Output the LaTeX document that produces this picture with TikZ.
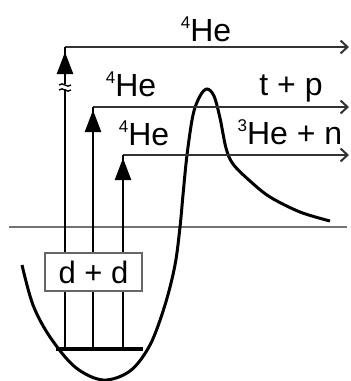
\documentclass[tikz,border=0pt]{standalone}
\usepackage{fontspec}
\setmainfont{Liberation Sans}
\usetikzlibrary{arrows.meta}
\newcommand{\supnum}[1]{\raisebox{13pt}{\fontsize{17}{17}\selectfont #1}}
\begin{document}
\begin{tikzpicture}[x=1pt,y=-1pt,
  hline/.style={line width=2.4pt, draw=black!80, -{Straight Barb[length=7pt,width=13pt,line width=2pt]}},
  vline/.style={line width=2.4pt, draw=black},
  vtip/.style={line width=2.4pt, -{Triangle[length=22pt,width=16pt]}},
  lbl/.style={font=\fontsize{32}{36}\selectfont, anchor=base, inner sep=0pt},
  base/.style={line width=2.6pt, draw=black!55},
  pot/.style={line width=3pt, draw=black},
  boxn/.style={draw=black!60, line width=1.3pt, fill=white, minimum width=97pt, minimum height=38pt, inner sep=0pt, font=\fontsize{31}{34}\selectfont}
]
\useasboundingbox (0,0) rectangle (351,381);
% coordinates
\coordinate (h1s) at (65,47);  \coordinate (h1e) at (349,47);
\coordinate (h2s) at (93,107); \coordinate (h2e) at (349,107);
\coordinate (h3s) at (123,155); \coordinate (h3e) at (349,155);
\coordinate (v1) at (65,349); \coordinate (v2) at (93,349); \coordinate (v3) at (123,349);
\coordinate (t1) at (65,52); \coordinate (t2) at (93,110); \coordinate (t3) at (123,158);
\coordinate (m1) at (65,120); \coordinate (m2) at (93,170); \coordinate (m3) at (123,215);
\coordinate (b1) at (56,349); \coordinate (b2) at (143,349);
\coordinate (l1) at (9,227); \coordinate (l2) at (347,227);
% baseline
\draw[base] (l1) -- (l2);
% potential
\draw[pot] plot[smooth, tension=0.55] coordinates {(22,265) (33,305) (50,337) (75,367) (103,380) (130,371) (150,345) (165,305) (175,265) (180,227) (183,195) (187,155) (193,115) (200,96) (207,89) (214,96) (220,118) (226,148) (233,164) (250,181) (270,197) (300,212) (330,221)};
% horizontal arrows
\draw[hline] (h1s) -- (h1e);
\draw[hline] (h2s) -- (h2e);
\draw[hline] (h3s) -- (h3e);
% vertical lines
\draw[vline] (v1) -- (h1s);
\draw[vline] (v2) -- (h2s);
\draw[vline] (v3) -- (h3s);
\draw[vtip] (m1) -- (t1);
\draw[vtip] (m2) -- (t2);
\draw[vtip] (m3) -- (t3);
% break mark
\fill[white] (59,84) rectangle (71,89);
\draw[line width=1.4pt] (59,85) .. controls (63,81) and (67,89) .. (71,85);
\draw[line width=1.4pt] (59,90) .. controls (63,86) and (67,94) .. (71,90);
% bottom bar
\draw[line width=4.5pt] (b1) -- (b2);
% box
\node[boxn] (dd) at (93.5,272) {d + d};
% labels
\node[lbl] (he1) at (206,41) {\supnum{4}He};
\node[lbl] (he2) at (131,96) {\supnum{4}He};
\node[lbl] (tp) at (291,95) {t + p};
\node[lbl] (he3) at (144,145) {\supnum{4}He};
\node[lbl] (hen) at (290,144) {\supnum{3}He + n};
\end{tikzpicture}
\end{document}
